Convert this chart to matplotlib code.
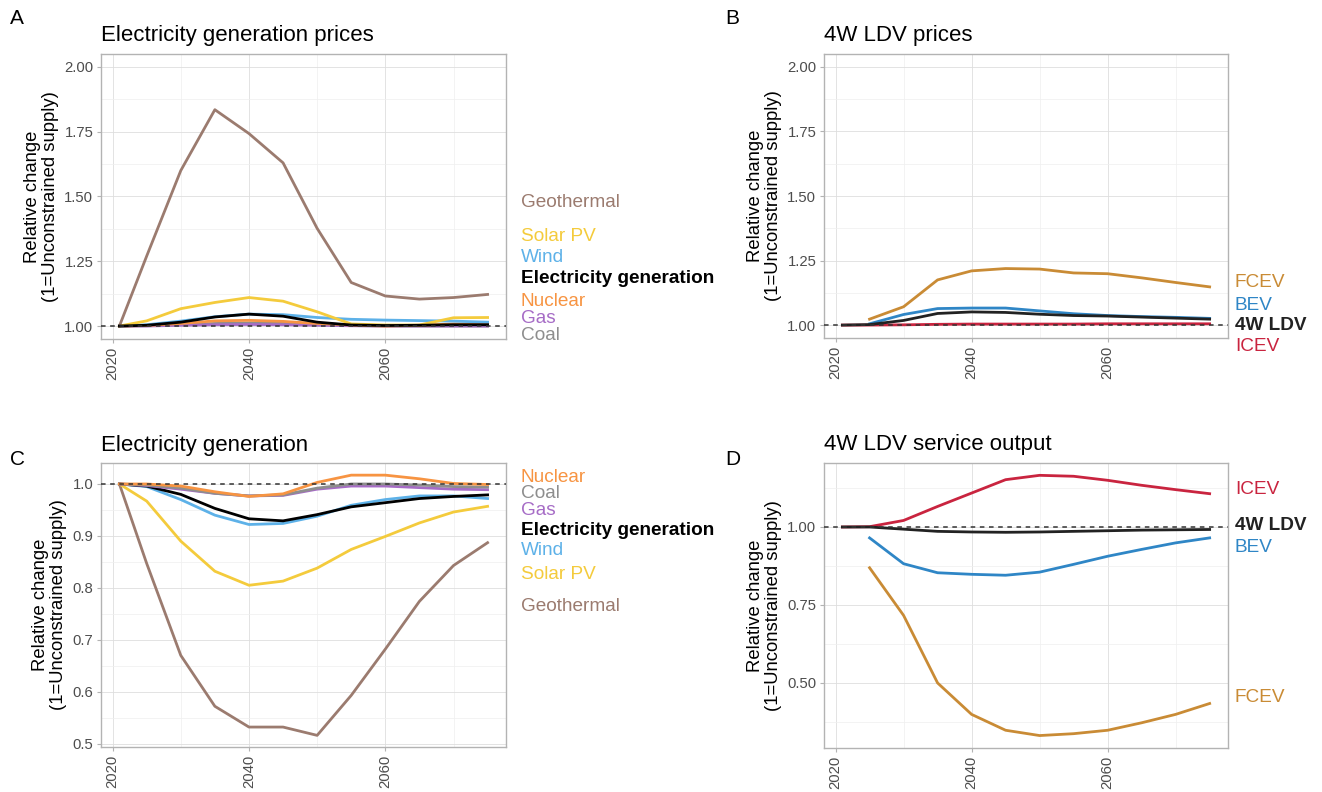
import matplotlib
matplotlib.use("Agg")
import matplotlib.pyplot as plt
from matplotlib.ticker import MultipleLocator

plt.rcParams['font.family'] = ['Liberation Sans', 'DejaVu Sans']

years = [2021, 2025, 2030, 2035, 2040, 2045, 2050, 2055, 2060, 2065, 2070, 2075]
years_b = years[1:]

# A: electricity generation prices
a_series = {
    "Geothermal": [1.0, 1.27, 1.60, 1.835, 1.743, 1.63, 1.377, 1.168, 1.116, 1.104, 1.11, 1.122],
    "Solar PV": [1.0, 1.02, 1.067, 1.091, 1.11, 1.096, 1.055, 1.008, 1.004, 1.004, 1.032, 1.033],
    "Wind": [1.0, 1.005, 1.019, 1.036, 1.046, 1.044, 1.033, 1.026, 1.023, 1.021, 1.019, 1.015],
    "Nuclear": [1.0, 1.002, 1.01, 1.02, 1.022, 1.018, 1.01, 1.004, 1.0, 1.003, 1.008, 1.008],
    "Gas": [1.0, 1.0, 1.003, 1.005, 1.006, 1.005, 1.003, 1.001, 1.0, 1.0, 1.0, 1.0],
    "Coal": [1.0, 1.001, 1.005, 1.01, 1.012, 1.01, 1.005, 1.002, 1.0, 1.0, 1.0, 1.0],
    "Electricity generation": [1.0, 1.003, 1.015, 1.035, 1.046, 1.038, 1.015, 1.004, 1.002, 1.003, 1.005, 1.005],
}
a_label_y = {"Geothermal": 1.478, "Solar PV": 1.347, "Wind": 1.266, "Electricity generation": 1.185,
             "Nuclear": 1.096, "Gas": 1.031, "Coal": 0.965}

# C: electricity generation
c_series = {
    "Geothermal": [1.0, 0.847, 0.670, 0.572, 0.532, 0.532, 0.516, 0.593, 0.682, 0.774, 0.843, 0.887],
    "Solar PV": [1.0, 0.967, 0.890, 0.832, 0.805, 0.813, 0.838, 0.874, 0.899, 0.925, 0.946, 0.957],
    "Wind": [1.0, 0.995, 0.970, 0.940, 0.922, 0.924, 0.938, 0.959, 0.970, 0.977, 0.977, 0.972],
    "Gas": [1.0, 0.997, 0.99, 0.982, 0.977, 0.978, 0.99, 0.996, 0.996, 0.993, 0.99, 0.989],
    "Coal": [1.0, 0.998, 0.992, 0.982, 0.977, 0.979, 0.992, 1.0, 1.0, 0.998, 0.995, 0.994],
    "Nuclear": [1.0, 1.0, 0.996, 0.985, 0.976, 0.981, 1.003, 1.017, 1.017, 1.010, 1.001, 0.999],
    "Electricity generation": [1.0, 0.996, 0.980, 0.953, 0.933, 0.929, 0.941, 0.956, 0.964, 0.972, 0.976, 0.979],
}
c_label_y = {"Nuclear": 1.013, "Coal": 0.982, "Gas": 0.949, "Electricity generation": 0.911,
             "Wind": 0.872, "Solar PV": 0.826, "Geothermal": 0.764}

# B: 4W LDV prices
b_fcev = [1.023, 1.071, 1.175, 1.21, 1.219, 1.217, 1.202, 1.199, 1.183, 1.165, 1.148]
b_bev = [1.005, 1.041, 1.064, 1.066, 1.066, 1.055, 1.044, 1.037, 1.033, 1.03, 1.026]
b_icev = [1.0, 1.0, 1.001, 1.003, 1.004, 1.004, 1.004, 1.004, 1.005, 1.005, 1.005, 1.005]
b_ldv = [1.0, 1.002, 1.018, 1.045, 1.051, 1.049, 1.042, 1.037, 1.035, 1.031, 1.027, 1.023]
b_label_y = {"FCEV": 1.166, "BEV": 1.077, "4W LDV": 1.0, "ICEV": 0.919}

# D: 4W LDV service output
d_fcev = [0.869, 0.716, 0.499, 0.398, 0.347, 0.330, 0.336, 0.347, 0.371, 0.398, 0.433]
d_bev = [0.965, 0.882, 0.853, 0.848, 0.845, 0.855, 0.880, 0.906, 0.928, 0.949, 0.965]
d_icev = [1.0, 1.001, 1.021, 1.066, 1.109, 1.152, 1.166, 1.163, 1.150, 1.134, 1.120, 1.107]
d_ldv = [1.0, 1.0, 0.993, 0.986, 0.984, 0.983, 0.984, 0.986, 0.988, 0.990, 0.991, 0.992]
d_label_y = {"ICEV": 1.121, "4W LDV": 1.005, "BEV": 0.935, "FCEV": 0.452}

elec_colors = {"Geothermal": "#9B7B6F", "Solar PV": "#F4CB3C", "Wind": "#5DB1E8",
               "Nuclear": "#F79442", "Gas": "#A66CC6", "Coal": "#8E8E8E",
               "Electricity generation": "#000000"}
ldv_colors = {"FCEV": "#C98B35", "BEV": "#2F86C6", "ICEV": "#C9243F", "4W LDV": "#222222"}

W, H = 1322, 792
fig = plt.figure(figsize=(W / 100, H / 100), dpi=100)


def make_ax(left, top, right, bottom):
    return fig.add_axes([left / W, 1 - bottom / H, (right - left) / W, (bottom - top) / H])


def style(ax, ylim, major, minor):
    ax.set_xlim(2018.3, 2077.7)
    ax.set_ylim(*ylim)
    ax.xaxis.set_major_locator(MultipleLocator(20))
    ax.xaxis.set_minor_locator(MultipleLocator(10))
    ax.yaxis.set_major_locator(MultipleLocator(major))
    ax.yaxis.set_minor_locator(MultipleLocator(minor))
    ax.grid(which="major", color="#DEDEDE", lw=0.6)
    ax.grid(which="minor", color="#EFEFEF", lw=0.5)
    ax.set_axisbelow(True)
    for s in ax.spines.values():
        s.set_color("#B3B3B3")
        s.set_linewidth(1.0)
    ax.tick_params(which="major", color="#B3B3B3", length=3, pad=2.5,
                   labelsize=10.7, labelcolor="#4D4D4D")
    ax.tick_params(which="minor", length=0)
    ax.tick_params(axis="x", labelrotation=90)
    ax.axhline(1.0, color="#333333", lw=1.1, ls=(0, (3, 3)), zorder=5)
    ax.set_ylabel("Relative change\n(1=Unconstrained supply)", fontsize=13.3, labelpad=4,
                  linespacing=1.05)


def put_labels(ax, colors, label_y, bold, offset):
    for name, yv in label_y.items():
        ax.annotate(name, xy=(1.0, yv), xycoords=("axes fraction", "data"),
                    xytext=(offset, 0), textcoords="offset pixels",
                    va="center", ha="left", fontsize=13.7, color=colors[name],
                    fontweight="bold" if name == bold else "normal", annotation_clip=False)


# Panel A
axA = make_ax(101, 54, 506, 339)
style(axA, (0.95, 2.05), 0.25, 0.125)
axA.yaxis.set_major_formatter(lambda v, p: f"{v:.2f}")
for name in ["Coal", "Gas", "Nuclear", "Wind", "Solar PV", "Geothermal", "Electricity generation"]:
    axA.plot(years, a_series[name], color=elec_colors[name], lw=2.0, zorder=3)
put_labels(axA, elec_colors, a_label_y, "Electricity generation", 15)
axA.set_title("Electricity generation prices", loc="left", fontsize=16, pad=9)

# Panel B
axB = make_ax(824, 54, 1228, 338)
style(axB, (0.95, 2.05), 0.25, 0.125)
axB.yaxis.set_major_formatter(lambda v, p: f"{v:.2f}")
axB.plot(years, b_icev, color=ldv_colors["ICEV"], lw=2.0, zorder=3)
axB.plot(years_b, b_fcev, color=ldv_colors["FCEV"], lw=2.0, zorder=3)
axB.plot(years_b, b_bev, color=ldv_colors["BEV"], lw=2.0, zorder=3)
axB.plot(years, b_ldv, color=ldv_colors["4W LDV"], lw=2.0, zorder=3)
put_labels(axB, ldv_colors, b_label_y, "4W LDV", 7)
axB.set_title("4W LDV prices", loc="left", fontsize=16, pad=9)

# Panel C
axC = make_ax(101, 463, 506, 747)
style(axC, (0.4936, 1.0404), 0.1, 0.05)
axC.yaxis.set_major_formatter(lambda v, p: f"{v:.1f}")
for name in ["Geothermal", "Solar PV", "Wind", "Electricity generation", "Gas", "Coal", "Nuclear"]:
    axC.plot(years, c_series[name], color=elec_colors[name], lw=2.0, zorder=3)
put_labels(axC, elec_colors, c_label_y, "Electricity generation", 15)
axC.set_title("Electricity generation", loc="left", fontsize=16, pad=9)

# Panel D
axD = make_ax(824, 463, 1228, 748)
style(axD, (0.290, 1.2056), 0.25, 0.125)
axD.yaxis.set_major_formatter(lambda v, p: f"{v:.2f}")
axD.plot(years_b, d_fcev, color=ldv_colors["FCEV"], lw=2.0, zorder=3)
axD.plot(years_b, d_bev, color=ldv_colors["BEV"], lw=2.0, zorder=3)
axD.plot(years, d_icev, color=ldv_colors["ICEV"], lw=2.0, zorder=3)
axD.plot(years, d_ldv, color=ldv_colors["4W LDV"], lw=2.0, zorder=3)
put_labels(axD, ldv_colors, d_label_y, "4W LDV", 7)
axD.set_title("4W LDV service output", loc="left", fontsize=16, pad=9)

for txt, x, y in [("A", 10, 24), ("B", 725, 24), ("C", 10, 465), ("D", 725, 465)]:
    fig.text(x / W, 1 - y / H, txt, fontsize=15, ha="left", va="baseline")

fig.savefig("out.png", dpi=100, facecolor="white")
